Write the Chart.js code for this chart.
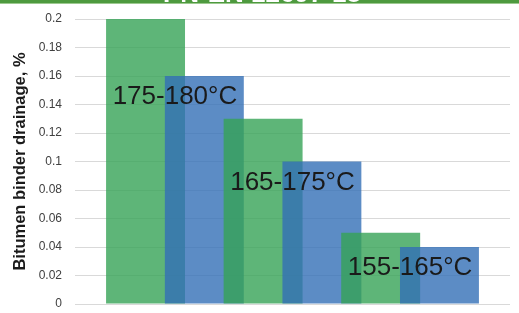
<!DOCTYPE html>
<html>
<head>
<meta charset="utf-8">
<script src="https://cdn.jsdelivr.net/npm/chart.js@4"></script>
<style>
  html, body { margin: 0; padding: 0; background: #ffffff; }
  #wrap { width: 519px; height: 313px; position: relative; }
</style>
</head>
<body>
<div id="wrap"><canvas id="c" width="519" height="313"></canvas></div>
<script>
// ---- data ----
const headerText = 'PN-EN 12697-18';
const yTitle = 'Bitumen binder drainage, %';
const groups = ['175-180°C', '165-175°C', '155-165°C'];
const greenValues = [0.2, 0.13, 0.05];
const blueValues = [0.16, 0.1, 0.04];
const yTicks = [0, 0.02, 0.04, 0.06, 0.08, 0.1, 0.12, 0.14, 0.16, 0.18, 0.2];

const GREEN = 'rgba(54,162,86,0.8)';
const BLUE = 'rgba(51,111,183,0.8)';

// interleave green/blue bars along a linear axis
const points = [];
const colors = [];
groups.forEach((g, i) => {
  points.push({ x: 2 * i + 1, y: greenValues[i] });
  colors.push(GREEN);
  points.push({ x: 2 * i + 2, y: blueValues[i] });
  colors.push(BLUE);
});

const decor = {
  id: 'decor',
  afterDatasetsDraw(chart) {
    const { ctx, scales } = chart;
    const xs = scales.x, ys = scales.y;
    ctx.save();
    ctx.fillStyle = '#1a1a1a';
    ctx.font = '26px "Liberation Sans", Arial, sans-serif';
    ctx.textAlign = 'center';
    ctx.textBaseline = 'middle';
    groups.forEach((g, i) => {
      const x = (xs.getPixelForValue(2 * i + 1) + xs.getPixelForValue(2 * i + 2)) / 2;
      const y = ys.getPixelForValue(blueValues[i]) + 21;
      ctx.fillText(g, x, y);
    });
    ctx.restore();
  },
  afterDraw(chart) {
    const { ctx, width } = chart;
    ctx.save();
    ctx.fillStyle = '#4e9a3f';
    ctx.fillRect(0, 0, width, 3);
    ctx.fillStyle = '#9cc98f';
    ctx.fillRect(0, 3, width, 1);
    ctx.beginPath();
    ctx.rect(0, 0, width, 3);
    ctx.clip();
    ctx.fillStyle = '#ffffff';
    ctx.font = 'bold 26px "Liberation Sans", Arial, sans-serif';
    ctx.textAlign = 'center';
    ctx.textBaseline = 'alphabetic';
    ctx.fillText(headerText, 262, 2);
    ctx.restore();
  }
};

new Chart(document.getElementById('c'), {
  type: 'bar',
  data: {
    datasets: [{
      data: points,
      backgroundColor: colors,
      borderWidth: 0,
      categoryPercentage: 1,
      barPercentage: 1.343
    }]
  },
  options: {
    responsive: false,
    animation: false,
    events: [],
    layout: { padding: { left: 0, top: 19, right: 9, bottom: 9 } },
    plugins: { legend: { display: false }, tooltip: { enabled: false } },
    scales: {
      x: {
        type: 'linear',
        min: -0.2,
        max: 7.2,
        offset: false,
        display: false,
        afterFit(s) { s.height = 0; }
      },
      y: {
        min: 0,
        max: 0.2,
        afterBuildTicks(s) { s.ticks = yTicks.map(v => ({ value: v })); },
        afterFit(s) { s.width = 75; },
        border: { display: false },
        grid: { color: '#d9d9d9', lineWidth: 1, drawTicks: true, tickLength: 12, tickColor: 'rgba(0,0,0,0)' },
        ticks: {
          padding: 1,
          color: '#404040',
          font: { family: '"Liberation Sans", Arial, sans-serif', size: 12 },
          callback: (v) => String(+v.toFixed(2))
        },
        title: {
          display: true,
          text: yTitle,
          color: '#1a1a1a',
          font: { family: '"Liberation Sans", Arial, sans-serif', size: 16.5, weight: 'bold' },
          padding: { top: 11, bottom: 0 }
        }
      }
    }
  },
  plugins: [decor]
});
</script>
</body>
</html>
